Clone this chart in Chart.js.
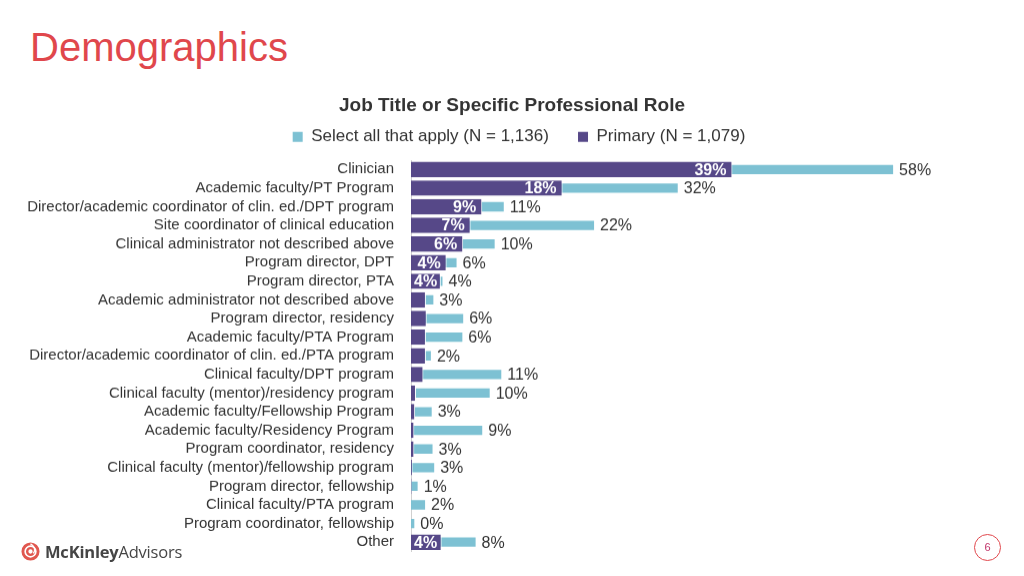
<!DOCTYPE html>
<html>
<head>
<meta charset="utf-8">
<script src="https://cdn.jsdelivr.net/npm/chart.js@4"></script>
<style>
  body { margin: 0; width: 1024px; height: 576px; background: #fff; position: relative; overflow: hidden; font-family: "Liberation Sans", Arial, sans-serif; }
  #heading { position: absolute; left: 30px; top: 25px; font-size: 40px; color: #e0474c; }
  #wrap { position: absolute; left: 0; top: 89px; width: 1024px; height: 487.5px; }
  #logo { position: absolute; left: 21px; top: 540px; display: flex; align-items: center; font-family: "Open Sans", sans-serif; font-size: 16.5px; color: #454545; letter-spacing: -0.2px; }
  #logo b { font-weight: 700; }
  #pageno { position: absolute; left: 974px; top: 534px; width: 25px; height: 25px; border: 1.5px solid #e0474c; border-radius: 50%; text-align: center; line-height: 25px; font-size: 11px; color: #c2366b; }
</style>
</head>
<body>
<div id="heading">Demographics</div>
<div id="wrap"><canvas id="roleChart"></canvas></div>
<div id="logo">
  <svg width="19" height="19" viewBox="0 0 20 20" style="margin-right:5px">
    <circle cx="10" cy="10" r="8" fill="none" stroke="#e0574f" stroke-width="3"/>
    <circle cx="10" cy="10" r="3.5" fill="none" stroke="#e0574f" stroke-width="2.5"/>
    <path d="M10 2 Q17 6 13 12" fill="none" stroke="#fff" stroke-width="1.5"/>
  </svg>
  <span><b>McKinley</b>Advisors</span>
</div>
<div id="pageno">6</div>
<script>
// Kategorien (Berufsrollen)
const roles = [
    'Clinician',
    'Academic faculty/PT Program',
    'Director/academic coordinator of clin. ed./DPT program',
    'Site coordinator of clinical education',
    'Clinical administrator not described above',
    'Program director, DPT',
    'Program director, PTA',
    'Academic administrator not described above',
    'Program director, residency',
    'Academic faculty/PTA Program',
    'Director/academic coordinator of clin. ed./PTA program',
    'Clinical faculty/DPT program',
    'Clinical faculty (mentor)/residency program',
    'Academic faculty/Fellowship Program',
    'Academic faculty/Residency Program',
    'Program coordinator, residency',
    'Clinical faculty (mentor)/fellowship program',
    'Program director, fellowship',
    'Clinical faculty/PTA program',
    'Program coordinator, fellowship',
    'Other'
];

// Select all that apply (N = 1,136), in %
const selectAll = [58.2, 32.2, 11.2, 22.1, 10.1, 5.5, 3.8, 2.7, 6.3, 6.2, 2.4, 10.9, 9.5, 2.5, 8.6, 2.6, 2.8, 0.8, 1.7, 0.4, 7.8];

// Primary (N = 1,079), in %
const primary = [38.8, 18.3, 8.6, 7.2, 6.3, 4.3, 3.6, 1.8, 1.9, 1.8, 1.8, 1.5, 0.6, 0.5, 0.4, 0.4, 0.2, 0.1, 0, 0, 3.7];

const purple = '#564888';
const teal = '#7dc1d3';

// Prozent-Beschriftungen an den Balken
const barLabels = {
    id: 'barLabels',
    afterLayout(chart) {
        // Legende etwas nach rechts, wie im Original
        chart.legend.left += 7;
        chart.legend.right += 7;
    },
    afterDatasetsDraw(chart) {
        const ctx = chart.ctx;
        const left = chart.chartArea.left;
        ctx.save();
        ctx.textBaseline = 'middle';
        // hellblau: Wert rechts neben dem Balken
        const tealMeta = chart.getDatasetMeta(1);
        ctx.font = '16px "Liberation Sans", Arial, sans-serif';
        ctx.fillStyle = '#333';
        ctx.textAlign = 'left';
        tealMeta.data.forEach((bar, i) => {
            ctx.fillText(Math.round(selectAll[i]) + '%', bar.x + 6, bar.y + 1);
        });
        // lila: Wert innen am Ende, nur wenn genug Platz
        const purpleMeta = chart.getDatasetMeta(0);
        ctx.font = 'bold 16px "Liberation Sans", Arial, sans-serif';
        ctx.fillStyle = '#fff';
        ctx.textAlign = 'right';
        purpleMeta.data.forEach((bar, i) => {
            if (primary[i] >= 3) {
                const txt = Math.round(primary[i]) + '%';
                const w = ctx.measureText(txt).width;
                const x = Math.max(bar.x - 6, left + 3 + w);
                ctx.fillText(txt, x, bar.y + 1);
            }
        });
        ctx.restore();
    }
};

new Chart(document.getElementById('roleChart'), {
    type: 'bar',
    data: {
        labels: roles,
        datasets: [{
            label: 'Primary (N = 1,079)',
            data: primary,
            backgroundColor: purple,
            borderColor: '#fff',
            borderWidth: { top: 0, bottom: 0, left: 0, right: 1 },
            grouped: false,
            barPercentage: 0.83,
            categoryPercentage: 1
        }, {
            label: 'Select all that apply (N = 1,136)',
            data: selectAll,
            backgroundColor: teal,
            grouped: false,
            barPercentage: 0.5,
            categoryPercentage: 1
        }]
    },
    options: {
        indexAxis: 'y',
        responsive: true,
        maintainAspectRatio: false,
        animation: false,
        layout: { padding: 0 },
        plugins: {
            title: {
                display: true,
                text: 'Job Title or Specific Professional Role',
                color: '#333',
                font: { family: '"Liberation Sans", Arial, sans-serif', size: 19, weight: 'bold' },
                padding: { top: 5.5, bottom: -4.1 }
            },
            legend: {
                display: true,
                position: 'top',
                reverse: true,
                labels: {
                    color: '#333',
                    font: { family: '"Liberation Sans", Arial, sans-serif', size: 17 },
                    boxWidth: 10,
                    boxHeight: 10,
                    padding: 15,
                    generateLabels(chart) {
                        const items = Chart.defaults.plugins.legend.labels.generateLabels(chart);
                        items.forEach(it => {
                            it.lineWidth = 0;
                            if (it.datasetIndex === 1) it.text = it.text + '   ';
                        });
                        return items;
                    }
                }
            },
            tooltip: { enabled: false }
        },
        scales: {
            x: {
                position: 'top',
                min: 0,
                max: 74,
                grid: { display: false, drawTicks: false },
                border: { display: false },
                ticks: { display: false },
                // nur etwas Abstand unter der Legende
                afterFit(scale) { scale.height = 4.8; }
            },
            y: {
                grid: { display: false, drawTicks: false },
                border: { display: true, color: '#d0d0d0' },
                ticks: {
                    autoSkip: false,
                    color: '#333',
                    padding: 17,
                    font: { family: '"Liberation Sans", Arial, sans-serif', size: 15 }
                },
                afterFit(scale) { scale.width = 411; }
            }
        }
    },
    plugins: [barLabels]
});
</script>
</body>
</html>
